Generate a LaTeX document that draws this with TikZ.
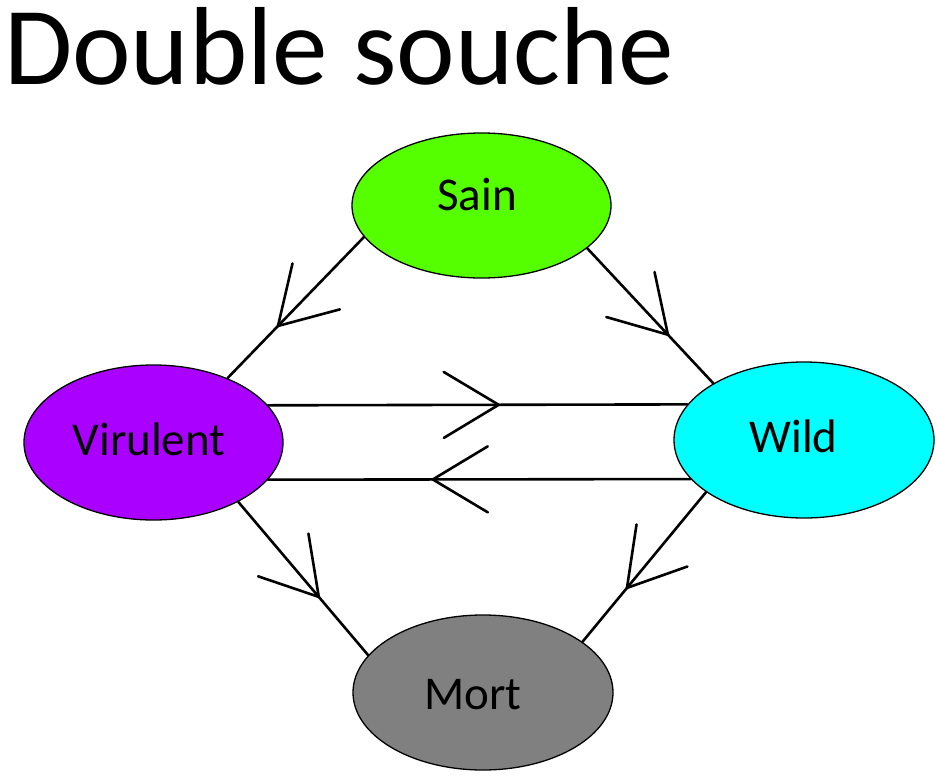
\documentclass[tikz,border=0pt]{standalone}
\usepackage{fontspec}
\setmainfont{Carlito}
\usetikzlibrary{decorations.markings,shapes.geometric}
\definecolor{sainc}{RGB}{85,255,0}
\definecolor{virc}{RGB}{170,0,255}
\definecolor{wildc}{RGB}{0,255,255}
\definecolor{mortc}{RGB}{128,128,128}
\tikzset{
  ell/.style={ellipse, draw=black, line width=1.3pt, minimum width=259pt, minimum height=155pt, inner sep=0pt},
  lab/.style={font=\fontsize{47}{50}\selectfont, anchor=base, inner sep=0pt},
  link/.style={line width=2.6pt, line cap=round,
    postaction={decorate, decoration={markings, mark=at position #1 with {
      \draw[line width=2.6pt, line cap=round] (-55pt,33pt) -- (0pt,0pt) -- (-55pt,-33pt);}}}}
}
\begin{document}
\begin{tikzpicture}[x=1pt,y=-1pt]
\useasboundingbox (0,0) rectangle (937,781);
\node[font=\fontsize{111}{120}\selectfont, anchor=base west, inner sep=0pt] (title) at (4,85) {Double souche};
\node[ell, fill=sainc, minimum height=145pt] (sain) at (481.5,205.5) {};
\node[ell, fill=virc] (vir) at (153.5,442.5) {};
\node[ell, fill=wildc, minimum width=260pt, minimum height=156pt] (wild) at (804,440) {};
\node[ell, fill=mortc, minimum width=260pt] (mort) at (483,692.5) {};
\node[lab] (sainL) at (477,210) {Sain};
\node[lab] (virL) at (149,455) {Virulent};
\node[lab] (wildL) at (793.5,452) {Wild};
\node[lab] (mortL) at (473,709) {Mort};
\draw[link=0.63] (sain.195) -- (vir.41.3);
\draw[link=0.64] (sain.338.5) -- (wild.148.9);
\draw[link=0.55] (vir.18.3) -- (wild.163.2);
\draw[link=0.61] (wild.199.1) -- (vir.342.3);
\draw[link=0.62] (vir.325.5) -- (mort.162.8);
\draw[link=0.64] (wild.208.6) -- (mort.27);
\end{tikzpicture}
\end{document}
